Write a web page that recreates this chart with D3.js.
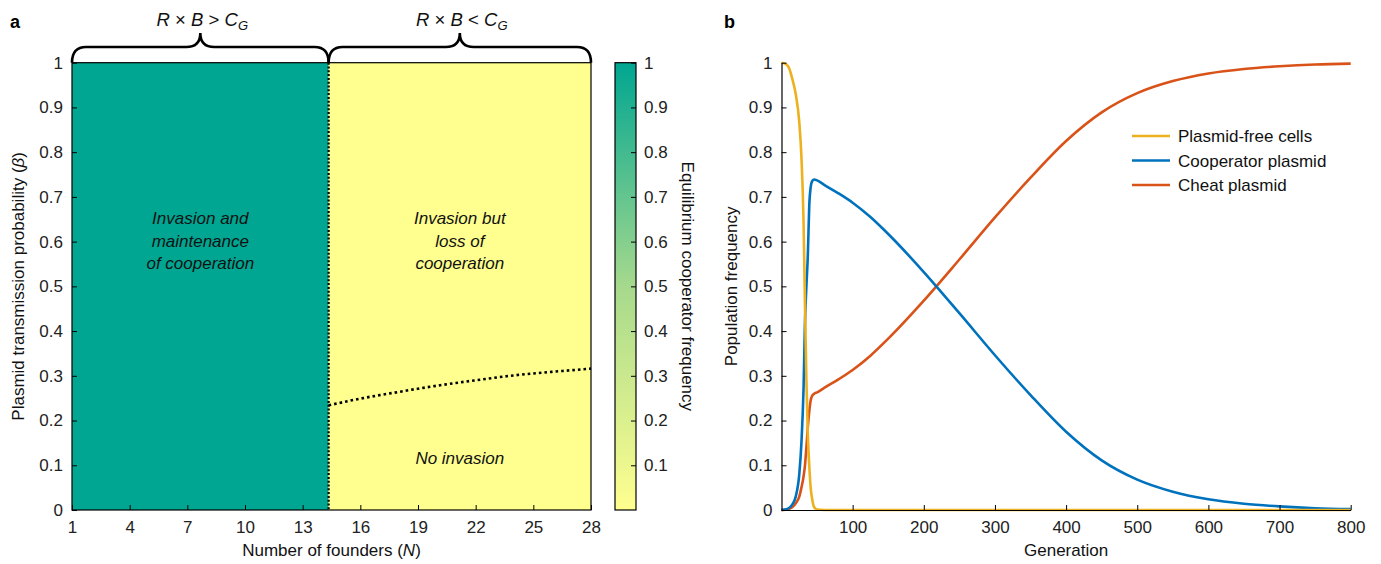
<!DOCTYPE html>
<html>
<head>
<meta charset="utf-8">
<script src="https://cdn.jsdelivr.net/npm/d3@7"></script>
<style>
  body { margin: 0; background: #fff; }
  svg { font-family: "Liberation Sans", Arial, sans-serif; }
  .tick text { font-size: 17px; fill: #222; }
</style>
</head>
<body>
<div id="chart"></div>
<script>
// ---- panel a data ----
const founderTicks = [1, 4, 7, 10, 13, 16, 19, 22, 25, 28];
const betaTicks = [0, 0.1, 0.2, 0.3, 0.4, 0.5, 0.6, 0.7, 0.8, 0.9, 1];
const colorbarTicks = [0.1, 0.2, 0.3, 0.4, 0.5, 0.6, 0.7, 0.8, 0.9, 1];
const boundaryN = 14.35; // cooperation kept to the left
const invasionN = [14.35, 16, 18, 20, 22, 24, 26, 28];
const invasionBeta = [0.234, 0.249, 0.264, 0.278, 0.290, 0.301, 0.309, 0.316];

// ---- panel b data ----
const generation = [0, 5, 10, 15, 20, 25, 28, 31, 33, 35, 37, 39, 41, 43, 46, 50, 60, 80,
  100, 125, 150, 200, 250, 300, 350, 400, 450, 500, 550, 600, 650, 700, 750, 800];
const plasmidFree = [1, 0.998, 0.99, 0.965, 0.93, 0.867, 0.79, 0.644, 0.46, 0.29, 0.17, 0.10, 0.05, 0.025, 0.006, 0.001, 0, 0,
  0, 0, 0, 0, 0, 0, 0, 0, 0, 0, 0, 0, 0, 0, 0, 0];
const cooperator = [0, 0.001, 0.004, 0.012, 0.03, 0.08, 0.15, 0.272, 0.42, 0.50, 0.569, 0.68, 0.722, 0.735, 0.739, 0.737, 0.727, 0.708,
  0.687, 0.655, 0.617, 0.532, 0.44, 0.346, 0.257, 0.175, 0.111, 0.068, 0.041, 0.024, 0.014, 0.008, 0.004, 0.002];
const cheat = [0, 0.0005, 0.002, 0.006, 0.015, 0.03, 0.05, 0.075, 0.10, 0.14, 0.185, 0.22, 0.245, 0.255, 0.26, 0.263, 0.273, 0.292,
  0.313, 0.345, 0.383, 0.468, 0.56, 0.654, 0.743, 0.825, 0.889, 0.932, 0.959, 0.976, 0.986, 0.992, 0.996, 0.998];
const genTicks = [100, 200, 300, 400, 500, 600, 700, 800];
const seriesNames = ["Plasmid-free cells", "Cooperator plasmid", "Cheat plasmid"];
const seriesColors = ["#EDB120", "#0072BD", "#D95319"];

const W = 1381, H = 564;
const svg = d3.select("#chart").append("svg").attr("width", W).attr("height", H);

const teal = "#00A691", yellow = "#FFFF8F";
const fracColor = d3.scaleLinear().domain([0, 0.5, 1]).range([yellow, "#A6D98D", teal]);

// ================= panel a =================
const xA = d3.scaleLinear().domain([1, 28]).range([72, 591]);
const yA = d3.scaleLinear().domain([0, 1]).range([510, 62.7]);

svg.append("rect")
  .attr("x", xA(1)).attr("y", yA(1))
  .attr("width", xA(boundaryN) - xA(1)).attr("height", yA(0) - yA(1))
  .attr("fill", teal);
svg.append("rect")
  .attr("x", xA(boundaryN)).attr("y", yA(1))
  .attr("width", xA(28) - xA(boundaryN)).attr("height", yA(0) - yA(1))
  .attr("fill", yellow);

// dotted borders
svg.append("line")
  .attr("x1", xA(boundaryN)).attr("x2", xA(boundaryN))
  .attr("y1", yA(1)).attr("y2", yA(0))
  .attr("stroke", "#000").attr("stroke-width", 2.2).attr("stroke-dasharray", "2 1.8");
svg.append("path")
  .datum(invasionN.map((n, i) => [n, invasionBeta[i]]))
  .attr("fill", "none").attr("stroke", "#000").attr("stroke-width", 2.6)
  .attr("stroke-dasharray", "2.6 3")
  .attr("d", d3.line().x(d => xA(d[0])).y(d => yA(d[1])).curve(d3.curveMonotoneX));

const axA = svg.append("g").attr("transform", `translate(0,${yA(0)})`)
  .call(d3.axisBottom(xA).tickValues(founderTicks).tickSizeInner(-5).tickSizeOuter(0).tickPadding(11));
axA.select(".domain").remove();
const ayA = svg.append("g").attr("transform", `translate(${xA(1)},0)`)
  .call(d3.axisLeft(yA).tickValues(betaTicks).tickFormat(d3.format("~g")).tickSizeInner(-5).tickSizeOuter(0).tickPadding(9));
ayA.select(".domain").remove();
svg.append("rect")
  .attr("x", xA(1)).attr("y", yA(1))
  .attr("width", xA(28) - xA(1)).attr("height", yA(0) - yA(1))
  .attr("fill", "none").attr("stroke", "#000").attr("stroke-width", 1.2);

// region labels
const regionText = [
  { x: (xA(1) + xA(boundaryN)) / 2, y: 224, lines: ["Invasion and", "maintenance", "of cooperation"] },
  { x: (xA(boundaryN) + xA(28)) / 2, y: 224, lines: ["Invasion but", "loss of", "cooperation"] },
  { x: (xA(boundaryN) + xA(28)) / 2, y: 464, lines: ["No invasion"] }
];
regionText.forEach(r => {
  const t = svg.append("text").attr("text-anchor", "middle").attr("font-style", "italic")
    .attr("font-size", 17).attr("fill", "#111");
  r.lines.forEach((l, i) => t.append("tspan").attr("x", r.x).attr("y", r.y + i * 22.5).text(l));
});

// braces
function brace(x1, x2) {
  const yb = 62.7, yh = 47, yc = 33, r = 14, mid = (x1 + x2) / 2;
  return `M${x1},${yb} Q${x1},${yh} ${x1 + r},${yh} L${mid - r},${yh} Q${mid},${yh} ${mid},${yc}` +
    ` Q${mid},${yh} ${mid + r},${yh} L${x2 - r},${yh} Q${x2},${yh} ${x2},${yb}`;
}
[[xA(1), xA(boundaryN), ">"], [xA(boundaryN), xA(28), "<"]].forEach(([a, b, op]) => {
  svg.append("path").attr("d", brace(a, b)).attr("fill", "none")
    .attr("stroke", "#000").attr("stroke-width", 2.6);
  const t = svg.append("text").attr("x", (a + b) / 2 + 2).attr("y", 26)
    .attr("text-anchor", "middle").attr("font-size", 18.5).attr("fill", "#111");
  t.append("tspan").attr("font-style", "italic").text("R");
  t.append("tspan").text(" \u00d7 ");
  t.append("tspan").attr("font-style", "italic").text("B");
  t.append("tspan").text(` ${op} `);
  t.append("tspan").attr("font-style", "italic").text("C");
  t.append("tspan").attr("font-style", "italic").attr("font-size", 13).attr("dy", 4).text("G");
});

svg.append("text").attr("transform", `translate(24,${(yA(0) + yA(1)) / 2}) rotate(-90)`)
  .attr("text-anchor", "middle").attr("font-size", 17).attr("fill", "#111")
  .call(t => {
    t.append("tspan").text("Plasmid transmission probability (");
    t.append("tspan").attr("font-style", "italic").text("\u03b2");
    t.append("tspan").text(")");
  });
svg.append("text").attr("x", (xA(1) + xA(28)) / 2).attr("y", 556)
  .attr("text-anchor", "middle").attr("font-size", 17).attr("fill", "#111")
  .call(t => {
    t.append("tspan").text("Number of founders (");
    t.append("tspan").attr("font-style", "italic").text("N");
    t.append("tspan").text(")");
  });

// colorbar
const defs = svg.append("defs");
const grad = defs.append("linearGradient").attr("id", "cb").attr("x1", 0).attr("x2", 0).attr("y1", 1).attr("y2", 0);
d3.range(0, 1.0001, 0.1).forEach(v => grad.append("stop").attr("offset", v).attr("stop-color", fracColor(v)));
const yC = d3.scaleLinear().domain([0, 1]).range([510, 62.7]);
const cbX = 615, cbW = 21;
svg.append("rect").attr("x", cbX).attr("y", yC(1)).attr("width", cbW).attr("height", yC(0) - yC(1))
  .attr("fill", "url(#cb)").attr("stroke", "#000").attr("stroke-width", 1.2);
const ayC = svg.append("g").attr("transform", `translate(${cbX + cbW},0)`)
  .call(d3.axisRight(yC).tickValues(colorbarTicks).tickFormat(d3.format("~g")).tickSizeInner(-5).tickSizeOuter(0).tickPadding(8));
ayC.select(".domain").remove();
svg.append("text").attr("transform", `translate(682,${(yC(0) + yC(1)) / 2}) rotate(90)`)
  .attr("text-anchor", "middle").attr("font-size", 17).attr("fill", "#111")
  .text("Equilibrium cooperator frequency");

// ================= panel b =================
const xB = d3.scaleLinear().domain([0, 800]).range([781.5, 1350.7]);
const yB = d3.scaleLinear().domain([0, 1]).range([510, 62.7]);

const series = [plasmidFree, cooperator, cheat];
const line = d3.line().x((d, i) => xB(generation[i])).y(d => yB(d)).curve(d3.curveMonotoneX);
// draw cheat, cooperator, then plasmid-free on top
[2, 1, 0].forEach(k => {
  svg.append("path").datum(series[k]).attr("fill", "none")
    .attr("stroke", seriesColors[k]).attr("stroke-width", 2.6).attr("d", line);
});

const axB = svg.append("g").attr("transform", `translate(0,${yB(0)})`)
  .call(d3.axisBottom(xB).tickValues(genTicks).tickSizeInner(-5).tickSizeOuter(0).tickPadding(11));
axB.select(".domain").attr("stroke-width", 1.2);
const ayB = svg.append("g").attr("transform", `translate(${xB(0)},0)`)
  .call(d3.axisLeft(yB).tickValues(betaTicks).tickFormat(d3.format("~g")).tickSizeInner(-5).tickSizeOuter(0).tickPadding(9));
ayB.select(".domain").attr("stroke-width", 1.2);

svg.append("text").attr("x", (xB(0) + xB(800)) / 2).attr("y", 556)
  .attr("text-anchor", "middle").attr("font-size", 17).attr("fill", "#111").text("Generation");
svg.append("text").attr("transform", `translate(737,${(yB(0) + yB(1)) / 2}) rotate(-90)`)
  .attr("text-anchor", "middle").attr("font-size", 17).attr("fill", "#111").text("Population frequency");

// legend
const lg = svg.append("g").attr("transform", "translate(1132,136)");
seriesNames.forEach((n, i) => {
  lg.append("line").attr("x1", 0).attr("x2", 38).attr("y1", i * 24.5).attr("y2", i * 24.5)
    .attr("stroke", seriesColors[i]).attr("stroke-width", 2.6);
  lg.append("text").attr("x", 46).attr("y", i * 24.5 + 6).attr("font-size", 17).attr("fill", "#111").text(n);
});

// panel letters
svg.append("text").attr("x", 10).attr("y", 28).attr("font-weight", "bold").attr("font-size", 18).text("a");
svg.append("text").attr("x", 724).attr("y", 28).attr("font-weight", "bold").attr("font-size", 18).text("b");
</script>
</body>
</html>
